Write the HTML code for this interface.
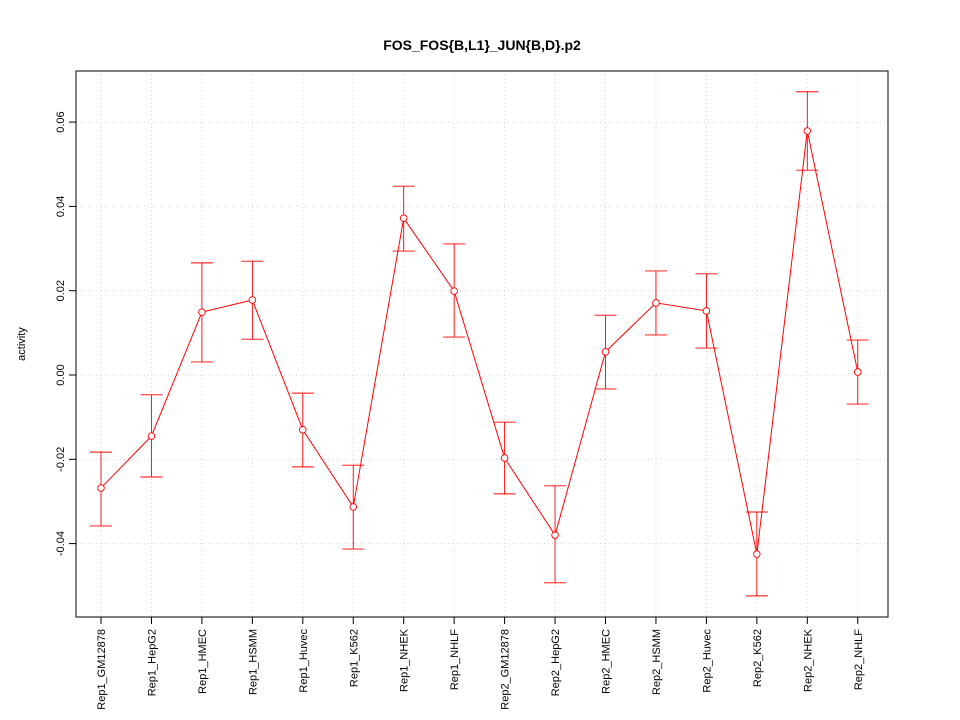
<!DOCTYPE html>
<html><head><meta charset="utf-8"><style>body{margin:0;background:#fff}svg{display:block;font-family:"Liberation Sans",Arial,sans-serif}</style></head>
<body>
<svg id="chart" width="960" height="720" viewBox="0 0 960 720" xmlns="http://www.w3.org/2000/svg">
<rect width="960" height="720" fill="#fff"/>
<text x="482" y="50" text-anchor="middle" font-size="14" font-weight="bold">FOS_FOS{B,L1}_JUN{B,D}.p2</text>
<text transform="translate(25,344) rotate(-90)" text-anchor="middle" font-size="11">activity</text>
<g id="grid"></g><g id="axes"></g><g id="marks"></g>
<rect x="76" y="71" width="812" height="546" fill="none" stroke="#000"/>
</svg>
<script>
const categories=["Rep1_GM12878","Rep1_HepG2","Rep1_HMEC","Rep1_HSMM","Rep1_Huvec","Rep1_K562","Rep1_NHEK","Rep1_NHLF","Rep2_GM12878","Rep2_HepG2","Rep2_HMEC","Rep2_HSMM","Rep2_Huvec","Rep2_K562","Rep2_NHEK","Rep2_NHLF"];
const values=[-0.0268,-0.0145,0.0149,0.0178,-0.0130,-0.0313,0.0372,0.0199,-0.0197,-0.0380,0.0055,0.0171,0.0152,-0.0425,0.0579,0.0007];
const upper=[-0.0183,-0.0047,0.0266,0.0270,-0.0043,-0.0214,0.0448,0.0311,-0.0112,-0.0263,0.0142,0.0247,0.0240,-0.0325,0.0672,0.0083];
const lower=[-0.0358,-0.0242,0.0031,0.0085,-0.0218,-0.0413,0.0294,0.0090,-0.0282,-0.0493,-0.0033,0.0095,0.0064,-0.0524,0.0486,-0.0069];
const yTicks=[-0.04,-0.02,0.00,0.02,0.04,0.06];
const yTickLabels=["-0.04","-0.02","0.00","0.02","0.04","0.06"];
const NS="http://www.w3.org/2000/svg";
const x=i=>101+i*50.45;
const y=v=>375-v*4215;
function mk(tag,attrs,parent){const e=document.createElementNS(NS,tag);for(const k in attrs)e.setAttribute(k,attrs[k]);document.getElementById(parent).appendChild(e);return e;}
categories.forEach((c,i)=>{
  const g=mk("line",{x1:x(i),x2:x(i),y1:71,y2:617,stroke:"#d3d3d3","stroke-dasharray":"1,3"},"grid");
  
  
  const t=mk("line",{x1:x(i),x2:x(i),y1:617,y2:624,stroke:"#000"},"axes");
  
  
  const l=mk("text",{transform:`translate(${x(i)+4},629) rotate(-90)`,"text-anchor":"end","font-size":"11"},"axes");
  l.textContent=c;
  
  
});
yTicks.forEach((v,i)=>{
  const g=mk("line",{x1:76,x2:888,y1:y(v),y2:y(v),stroke:"#d3d3d3","stroke-dasharray":"1,3"},"grid");
  
  
  const t=mk("line",{x1:69,x2:76,y1:y(v),y2:y(v),stroke:"#000"},"axes");
  
  
  const l=mk("text",{transform:`translate(64,${y(v)}) rotate(-90)`,"text-anchor":"middle","font-size":"11"},"axes");
  l.textContent=yTickLabels[i];
  
  
});
const line=mk("polyline",{points:values.map((v,i)=>x(i)+","+y(v)).join(" "),fill:"none",stroke:"red"},"marks");


values.forEach((v,i)=>{
  const e=mk("path",{d:`M${x(i)},${y(upper[i])}V${y(lower[i])}M${x(i)-11},${y(upper[i])}H${x(i)+11}M${x(i)-11},${y(lower[i])}H${x(i)+11}`,stroke:"red",fill:"none","stroke-width":"0.9"},"marks");
  
  
  const p=mk("circle",{cx:x(i),cy:y(v),r:3.3,fill:"#fff",stroke:"red","stroke-width":"0.9"},"marks");
  
  
});
</script>
</body></html>
